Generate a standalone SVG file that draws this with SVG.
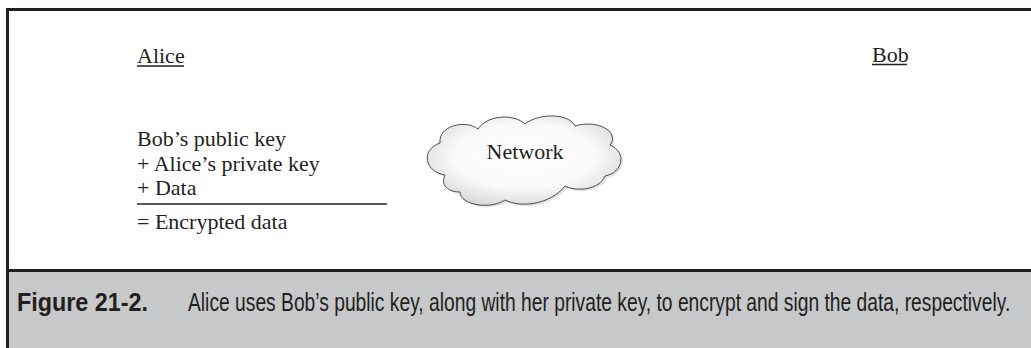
<svg xmlns="http://www.w3.org/2000/svg" width="1031" height="348" viewBox="0 0 1031 348">
<style>
.body{font-family:"Liberation Serif","Times New Roman",serif;font-size:22px;fill:#231f20}
.cap{font-family:"Liberation Sans",Arial,sans-serif;font-size:26px;fill:#231f20}
.rule{stroke:#231f20;stroke-width:1.3;fill:none}
.frame{stroke:#231f20;stroke-width:3;fill:none}
</style>
<defs>
<radialGradient id="cloudGrad" cx="0.5" cy="0.45" r="0.6">
<stop offset="0" stop-color="#ffffff"/>
<stop offset="0.6" stop-color="#fafafa"/>
<stop offset="1" stop-color="#d6d6d6"/>
</radialGradient>
<path id="cloudShape" d="M445,175 C425,172 420,150 440,143 C438,126 465,119 478,129 C488,114 515,114 525,124 C540,112 570,114 575,126 C598,119 620,132 610,145 C628,153 622,173 605,176 C600,190 575,192 565,186 C550,205 520,208 505,200 C490,210 460,205 460,192 C448,192 440,185 445,175 Z"/>
</defs>
<rect x="0" y="0" width="1031" height="348" fill="#ffffff"/>
<rect x="8" y="271" width="1023" height="77" fill="#c7c8ca"/>
<g id="frame">
<line class="frame" x1="7.5" y1="9.5" x2="1031" y2="9.5"/>
<line class="frame" x1="7.5" y1="8" x2="7.5" y2="348"/>
<line class="frame" x1="7.5" y1="270.5" x2="1031" y2="270.5"/>
</g>
<g id="alice">
<text class="body" x="137" y="63">Alice</text>
<line class="rule" x1="137" y1="66" x2="184" y2="66"/>
</g>
<g id="bob">
<text class="body" x="872" y="62">Bob</text>
<line class="rule" x1="872" y1="64.5" x2="907" y2="64.5"/>
</g>
<g id="equation">
<text class="body" x="137" y="146">Bob’s public key</text>
<text class="body" x="137" y="171">+ Alice’s private key</text>
<text class="body" x="137" y="195">+ Data</text>
<line class="rule" x1="137" y1="204" x2="387" y2="204"/>
<text class="body" x="137" y="229">= Encrypted data</text>
</g>
<g id="network">
<use href="#cloudShape" transform="translate(2,2)" fill="#d0d0d0" opacity="0.6"/>
<use href="#cloudShape" fill="url(#cloudGrad)" stroke="#4d4d4f" stroke-width="1"/>
<text class="body" x="525" y="159" text-anchor="middle" font-size="23">Network</text>
</g>
<g id="caption">
<text class="cap" x="17" y="311" font-weight="bold" textLength="131" lengthAdjust="spacingAndGlyphs">Figure 21-2.</text>
<g transform="translate(188,311) scale(0.72,1)">
<text class="cap" x="0" y="0" textLength="1142" lengthAdjust="spacingAndGlyphs">Alice uses Bob’s public key, along with her private key, to encrypt and sign the data, respectively.</text>
</g>
</g>
</svg>
